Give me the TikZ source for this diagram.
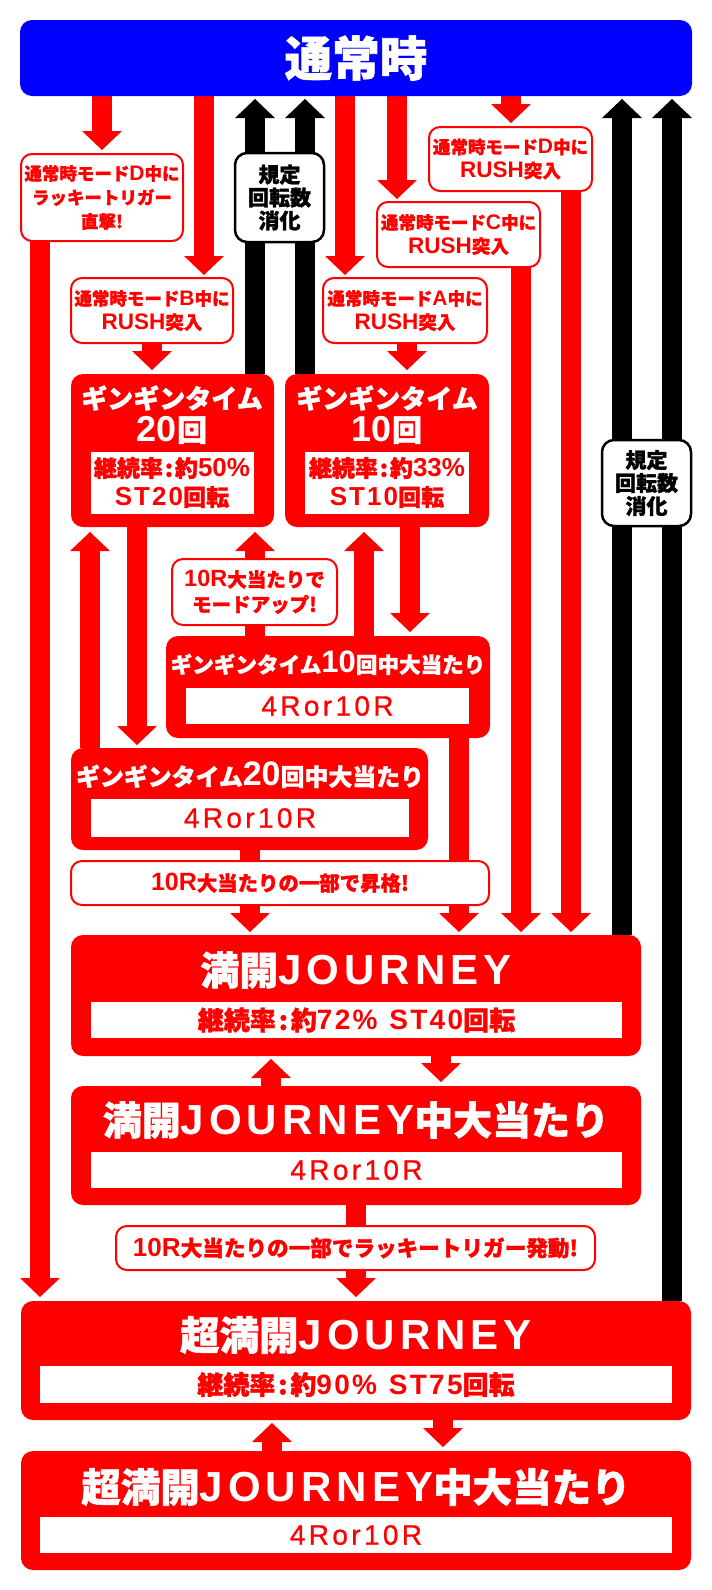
\documentclass[tikz,border=0pt]{standalone}
\usepackage{fontspec}
\setmainfont{Noto Sans CJK JP}[BoldFeatures={FakeBold=1.4}]
\newfontfamily\latfont{Liberation Sans}
\usetikzlibrary{arrows.meta}
\definecolor{rd}{HTML}{FF0000}
\definecolor{bl}{HTML}{0000FF}
\pgfdeclarelayer{bg}
\pgfsetlayers{bg,main}
% \LT{size}{letterspace}{text}: bold Latin; \LR: regular Latin
\newcommand\LT[3]{{\latfont\bfseries\fontsize{#1}{#1}\selectfont\addfontfeature{LetterSpace=#2}#3}}
\newcommand\LR[3]{{\latfont\fontsize{#1}{#1}\selectfont\addfontfeature{LetterSpace=#2,FakeBold=0.8}#3}}
\newcommand\jfs[2]{\fontsize{#1}{#2}\selectfont\bfseries}
\tikzset{
  rarr/.style={draw=rd, line width=20pt, -{Triangle[width=40pt,length=19pt,line width=0pt]}},
  karr/.style={draw=black, line width=20pt, -{Triangle[width=40pt,length=19pt,line width=0pt]}},
  redbox/.style={rectangle, fill=rd, rounded corners=12pt, anchor=north west, inner sep=0pt, outer sep=0pt},
  whitebox/.style={rectangle, fill=white, anchor=north west, inner sep=0pt, outer sep=0pt},
  lblbox/.style={rectangle, fill=white, draw=rd, line width=2pt, rounded corners=11pt, anchor=north west, inner sep=0pt, outer sep=0pt},
  kbox/.style={rectangle, fill=white, draw=black, line width=2.5pt, rounded corners=12pt, anchor=north west, inner sep=0pt, outer sep=0pt},
  wt/.style={text=white, inner sep=0pt, align=center},
  rt/.style={text=rd, inner sep=0pt, align=center},
  kt/.style={text=black, inner sep=0pt, align=center},
}
\begin{document}
\begin{tikzpicture}[x=1pt,y=-1pt]
\begin{pgfonlayer}{bg}
\fill[white] (0,0) rectangle (712,1590);
\end{pgfonlayer}
\useasboundingbox (0,0) rectangle (712,1590);

\foreach \c in {40,90,102,137,152,204,250,255,271,272,305,345,356,364,397,407,410,441,443,459,511,521,571,622,672}
  {\coordinate (x\c) at (\c,0);}

% top
\node[redbox, fill=bl, minimum width=672pt, minimum height=76pt] (top) at (20,20) {};
\node[wt, font=\jfs{47.5}{47.5}] (topt) at (356,58) {通常時};

% mode labels
\node[lblbox, minimum width=162pt, minimum height=87pt] (L1) at (21,154) {};
\node[rt, font=\jfs{17.5}{24}] (L1t) at (L1.center) {通常時モード\LT{21}{0}{D}中に\\ラッキートリガー\\直撃!};
\node[lblbox, minimum width=162pt, minimum height=65pt] (mB) at (71,278) {};
\node[rt, font=\jfs{17.5}{24}] (mBt) at (mB.center) {通常時モード\LT{21}{0}{B}中に\\\LT{22.5}{0}{RUSH}{\fontsize{18.5}{24}\selectfont 突入}};
\node[lblbox, minimum width=164pt, minimum height=65pt] (mA) at (323,278) {};
\node[rt, font=\jfs{17.5}{24}] (mAt) at (mA.center) {通常時モード\LT{21}{0}{A}中に\\\LT{22.5}{0}{RUSH}{\fontsize{18.5}{24}\selectfont 突入}};
\node[lblbox, minimum width=163pt, minimum height=65pt] (mC) at (377,202) {};
\node[rt, font=\jfs{17.5}{24}] (mCt) at (mC.center) {通常時モード\LT{21}{0}{C}中に\\\LT{22.5}{0}{RUSH}{\fontsize{18.5}{24}\selectfont 突入}};
\node[lblbox, minimum width=163pt, minimum height=64pt] (mD) at (429,127) {};
\node[rt, font=\jfs{17.5}{24}] (mDt) at (mD.center) {通常時モード\LT{21}{0}{D}中に\\\LT{22.5}{0}{RUSH}{\fontsize{18.5}{24}\selectfont 突入}};

% kitei boxes
\node[kbox, minimum width=89pt, minimum height=89pt] (k1) at (235,153) {};
\node[kt, font=\jfs{21}{23}] (k1t) at (k1.center) {規定\\回転数\\消化};
\node[kbox, minimum width=89pt, minimum height=86pt] (k2) at (602,440) {};
\node[kt, font=\jfs{21}{23}] (k2t) at (k2.center) {規定\\回転数\\消化};

% GinGin 20
\node[redbox, minimum width=203pt, minimum height=153pt] (g20) at (71,374) {};
\node[whitebox, minimum width=163pt, minimum height=62pt] (g20w) at (91,452) {};
\node[wt, font=\jfs{26}{26}] (g20a) at (172,398) {ギンギンタイム};
\node[wt, font=\jfs{30}{30}] (g20b) at (172,430) {\LT{36}{0}{20}回};
\node[rt, font=\jfs{23}{23}] (g20c1) at (172,468) {継続率\kern2pt:\kern2pt約\LT{26}{0}{50\%}};
\node[rt, font=\jfs{23}{23}] (g20c2) at (172,497) {\LT{26}{8}{ST20}回転};

% GinGin 10
\node[redbox, minimum width=204pt, minimum height=153pt] (g10) at (285,374) {};
\node[whitebox, minimum width=164pt, minimum height=62pt] (g10w) at (305,452) {};
\node[wt, font=\jfs{26}{26}] (g10a) at (387,398) {ギンギンタイム};
\node[wt, font=\jfs{30}{30}] (g10b) at (387,430) {\LT{36}{0}{10}回};
\node[rt, font=\jfs{23}{23}] (g10c1) at (387,468) {継続率\kern2pt:\kern2pt約\LT{26}{0}{33\%}};
\node[rt, font=\jfs{23}{23}] (g10c2) at (387,497) {\LT{26}{8}{ST10}回転};

% mode up
\node[lblbox, minimum width=165pt, minimum height=66pt] (mu) at (172,559) {};
\node[rt, font=\jfs{19.5}{25}] (mut) at (mu.center) {\LT{23.5}{0}{10R}大当たりで\\モードアップ!};

% 10 hit
\node[redbox, minimum width=324pt, minimum height=102pt] (g10h) at (166,636) {};
\node[whitebox, minimum width=283pt, minimum height=36pt] (g10hw) at (186,688) {};
\node[wt, font=\jfs{21.6}{21.6}] (g10ht) at (328,663) {ギンギンタイム\LT{31}{0}{10}回中大当たり};
\node[rt] (g10hr) at (g10hw.center) {\LR{28}{12}{4Ror10R}};

% 20 hit
\node[redbox, minimum width=357pt, minimum height=102pt] (g20h) at (71,748) {};
\node[whitebox, minimum width=318pt, minimum height=38pt] (g20hw) at (91,799) {};
\node[wt, font=\jfs{23.9}{23.9}] (g20ht) at (250,775) {ギンギンタイム\LT{34}{0}{20}回中大当たり};
\node[rt] (g20hr) at (g20hw.center) {\LR{28}{12}{4Ror10R}};

% shokaku
\node[lblbox, minimum width=418pt, minimum height=44pt] (sh) at (71,861) {};
\node[rt, font=\jfs{20.4}{20.4}] (sht) at (sh.center) {\LT{25}{0}{10R}大当たりの一部で昇格!};

% mankai
\node[redbox, minimum width=570pt, minimum height=121pt] (man) at (71,935) {};
\node[whitebox, minimum width=531pt, minimum height=36pt] (manw) at (91,1002) {};
\node[wt, font=\jfs{39}{39}] (mant) at (356,970) {満開\LT{42}{12}{JOURNEY}};
\node[rt, font=\jfs{26}{26}] (mans) at (manw.center) {継続率\kern3pt:\kern3pt約\LT{28}{8}{72\%}\kern12pt\LT{28}{8}{ST40}回転};

\node[redbox, minimum width=570pt, minimum height=119pt] (manc) at (71,1086) {};
\node[whitebox, minimum width=531pt, minimum height=36pt] (mancw) at (91,1152) {};
\node[wt, font=\jfs{39}{39}] (manct) at (356,1120) {満開\LT{42}{12}{JOURNEY}中大当たり};
\node[rt] (mancr) at (mancw.center) {\LR{28}{12}{4Ror10R}};

% lucky
\node[lblbox, minimum width=479pt, minimum height=44pt] (lk) at (116,1226) {};
\node[rt, font=\jfs{21.6}{21.6}] (lkt) at (lk.center) {\LT{26}{0}{10R}大当たりの一部でラッキートリガー発動!};

% chou mankai
\node[redbox, minimum width=670pt, minimum height=119pt] (cho) at (21,1301) {};
\node[whitebox, minimum width=632pt, minimum height=37pt] (chow) at (40,1366) {};
\node[wt, font=\jfs{39.5}{39.5}] (chot) at (356,1335) {超満開\LT{42}{12}{JOURNEY}};
\node[rt, font=\jfs{26}{26}] (chos) at (chow.center) {継続率\kern3pt:\kern3pt約\LT{28}{8}{90\%}\kern12pt\LT{28}{8}{ST75}回転};

\node[redbox, minimum width=670pt, minimum height=119pt] (choc) at (21,1451) {};
\node[whitebox, minimum width=632pt, minimum height=36pt] (chocw) at (40,1517) {};
\node[wt, font=\jfs{39.5}{39.5}] (choct) at (356,1487) {超満開\LT{42}{12}{JOURNEY}中大当たり};
\node[rt] (chocr) at (chocw.center) {\LR{28}{12}{4Ror10R}};

% connectors
\begin{pgfonlayer}{bg}
\draw[rarr, shorten >=4pt] (top.south -| x102) -- (L1.north -| x102);
\draw[rarr, shorten >=3pt] (top.south -| x204) -- (mB.north -| x204);
\draw[rarr, shorten >=3pt] (top.south -| x345) -- (mA.north -| x345);
\draw[rarr, shorten >=3pt] (top.south -| x397) -- (mC.north -| x397);
\draw[rarr, shorten >=4pt] (top.south -| x511) -- (mD.north -| x511);
\draw[karr, shorten >=3pt] (g20.north -| x255) -- (top.south -| x255);
\draw[karr, shorten >=3pt] (g10.north -| x305) -- (top.south -| x305);
\draw[karr, shorten >=3pt] (man.north -| x622) -- (top.south -| x622);
\draw[karr, shorten >=3pt] (cho.north -| x672) -- (top.south -| x672);
\draw[rarr, shorten >=4pt] (L1.south -| x40) -- (cho.north -| x40);
\draw[rarr, shorten >=4pt] (mB.south -| x152) -- (g20.north -| x152);
\draw[rarr, shorten >=4pt] (mA.south -| x407) -- (g10.north -| x407);
\draw[rarr, shorten >=3pt] (mC.south -| x521) -- (man.north -| x521);
\draw[rarr, shorten >=3pt] (mD.south -| x571) -- (man.north -| x571);
\draw[rarr, shorten >=5pt] (g20h.north -| x90) -- (g20.south -| x90);
\draw[rarr, shorten >=3pt] (g20.south -| x137) -- (g20h.north -| x137);
\draw[rarr, shorten >=5pt] (g10h.north -| x255) -- (g20.south -| x255);
\draw[rarr, shorten >=5pt] (g10h.north -| x364) -- (g10.south -| x364);
\draw[rarr, shorten >=4pt] (g10.south -| x410) -- (g10h.north -| x410);
\draw[rarr, shorten >=3pt] (g20h.south -| x250) -- (man.north -| x250);
\draw[rarr, shorten >=3pt] (g10h.south -| x459) -- (man.north -| x459);
\draw[rarr, shorten >=3pt] (manc.north -| x271) -- (man.south -| x271);
\draw[rarr, shorten >=4pt] (man.south -| x441) -- (manc.north -| x441);
\draw[rarr, shorten >=4pt] (manc.south -| x356) -- (cho.north -| x356);
\draw[rarr, shorten >=3pt] (choc.north -| x272) -- (cho.south -| x272);
\draw[rarr, shorten >=4pt] (cho.south -| x443) -- (choc.north -| x443);
\end{pgfonlayer}
\end{tikzpicture}
\end{document}
